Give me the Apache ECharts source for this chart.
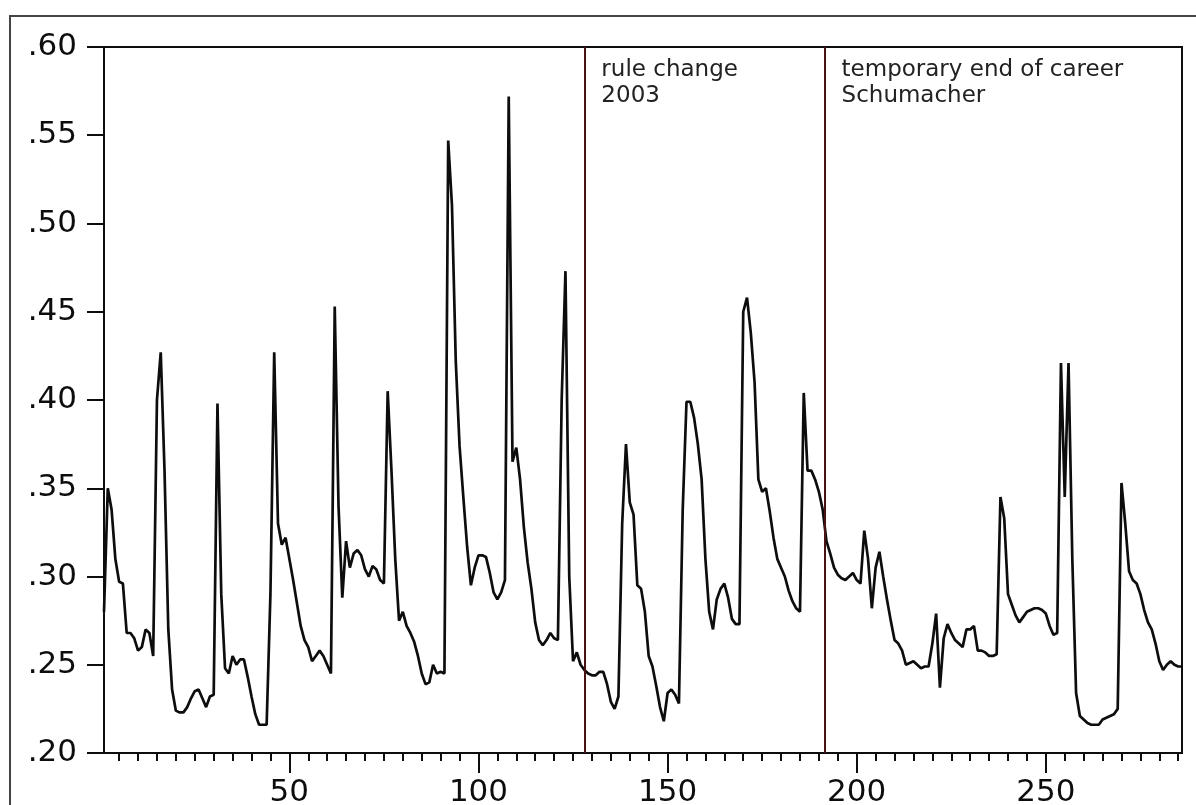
<!DOCTYPE html>
<html>
<head>
<meta charset="utf-8">
<script src="https://cdn.jsdelivr.net/npm/echarts@6/dist/echarts.min.js"></script>
<style>
html,body{margin:0;padding:0;background:#fff;}
#chart{width:1196px;height:805px;}
</style>
</head>
<body>
<div id="chart"></div>
<script>
const values = [
  0.28, 0.35, 0.338, 0.31, 0.297, 0.296, 0.268, 0.268, 0.265, 0.258,
  0.26, 0.27, 0.268, 0.255, 0.40, 0.427, 0.36, 0.27, 0.236, 0.224,
  0.223, 0.223, 0.226, 0.231, 0.235, 0.236, 0.231, 0.226, 0.232, 0.233,
  0.398, 0.29, 0.248, 0.245, 0.255, 0.25, 0.253, 0.253, 0.243, 0.232,
  0.222, 0.216, 0.216, 0.216, 0.29, 0.427, 0.33, 0.318, 0.322, 0.31,
  0.298, 0.285, 0.272, 0.264, 0.26, 0.252, 0.255, 0.258, 0.255, 0.25,
  0.245, 0.453, 0.34, 0.288, 0.32, 0.305, 0.313, 0.315, 0.312, 0.304,
  0.30, 0.306, 0.304, 0.298, 0.296, 0.405, 0.36, 0.31, 0.275, 0.28,
  0.272, 0.268, 0.263, 0.255, 0.245, 0.239, 0.24, 0.25, 0.245, 0.246,
  0.245, 0.547, 0.51, 0.422, 0.374, 0.345, 0.317, 0.295, 0.305, 0.312,
  0.312, 0.311, 0.302, 0.291, 0.287, 0.291, 0.298, 0.572, 0.365, 0.373,
  0.355, 0.328, 0.308, 0.293, 0.274, 0.264, 0.261, 0.264, 0.268, 0.265,
  0.264, 0.40, 0.473, 0.30, 0.252, 0.257, 0.25, 0.247, 0.245, 0.244,
  0.244, 0.246, 0.246, 0.239, 0.229, 0.225, 0.232, 0.33, 0.375, 0.342,
  0.335, 0.295, 0.293, 0.28, 0.255, 0.249, 0.238, 0.226, 0.218, 0.234,
  0.236, 0.233, 0.228, 0.338, 0.399, 0.399, 0.39, 0.375, 0.355, 0.31,
  0.28, 0.27, 0.287, 0.293, 0.296, 0.288, 0.276, 0.273, 0.273, 0.45,
  0.458, 0.438, 0.41, 0.355, 0.348, 0.35, 0.337, 0.322, 0.31, 0.305,
  0.30, 0.292, 0.286, 0.282, 0.28, 0.404, 0.36, 0.36, 0.355, 0.348,
  0.338, 0.32, 0.313, 0.305, 0.301, 0.299, 0.298, 0.30, 0.302, 0.298,
  0.296, 0.326, 0.31, 0.282, 0.305, 0.314, 0.30, 0.287, 0.275, 0.264,
  0.262, 0.258, 0.25, 0.251, 0.252, 0.25, 0.248, 0.249, 0.249, 0.262,
  0.279, 0.237, 0.265, 0.273, 0.268, 0.264, 0.262, 0.26, 0.27, 0.27,
  0.272, 0.258, 0.258, 0.257, 0.255, 0.255, 0.256, 0.345, 0.333, 0.29,
  0.284, 0.278, 0.274, 0.277, 0.28, 0.281, 0.282, 0.282, 0.281, 0.279,
  0.272, 0.267, 0.268, 0.421, 0.345, 0.421, 0.31, 0.234, 0.221, 0.219,
  0.217, 0.216, 0.216, 0.216, 0.219, 0.22, 0.221, 0.222, 0.225, 0.353,
  0.33, 0.303, 0.298, 0.296, 0.29, 0.281, 0.274, 0.27, 0.262, 0.252,
  0.247, 0.25, 0.252, 0.25, 0.249, 0.249
];
const xMin = 1;
const xMax = 286;
const xMajorTicks = [50, 100, 150, 200, 250];
const xMinorTicks = [5,10,15,20,25,30,35,40,45,50,55,60,65,70,75,80,85,90,95,100,
  105,110,115,120,125,130,135,140,145,150,155,160,165,170,175,180,185,190,195,200,
  205,210,215,220,225,230,235,240,245,250,255,260,265,270,275,280,285];
const yMin = 0.20, yMax = 0.60, yStep = 0.05;
const eventX = [128, 191.5];
const eventLabels = ['rule change\n2003', 'temporary end of career\nSchumacher'];

const seriesData = values.map((v, i) => [i + 1, v]);

const chart = echarts.init(document.getElementById('chart'), null, {renderer: 'canvas'});
const FONT = 'DejaVu Sans';
const INK = '#0d0d0d';

chart.setOption({
  animation: false,
  backgroundColor: '#fff',
  graphic: [{
    type: 'rect',
    shape: {x: 10, y: 16, width: 1300, height: 900},
    style: {fill: 'none', stroke: '#444', lineWidth: 2},
    silent: true, z: -1
  }],
  grid: {
    left: 104, top: 47, width: 1078, height: 706,
    outerBoundsMode: 'none',
    containLabel: false,
    show: true, borderColor: INK, borderWidth: 2, backgroundColor: 'transparent'
  },
  xAxis: [{
    type: 'value', min: xMin, max: xMax, position: 'bottom',
    axisLine: {show: true, onZero: false, lineStyle: {color: INK, width: 2}},
    axisTick: {show: true, inside: false, length: 20, customValues: xMajorTicks, lineStyle: {color: INK, width: 2}},
    axisLabel: {show: true, customValues: xMajorTicks, margin: 24, fontSize: 31, fontFamily: FONT, color: INK},
    splitLine: {show: false}
  }, {
    type: 'value', min: xMin, max: xMax, position: 'bottom',
    axisLine: {show: false},
    axisTick: {show: true, inside: false, length: 8, customValues: xMinorTicks, lineStyle: {color: INK, width: 2}},
    axisLabel: {show: false},
    splitLine: {show: false}
  }],
  yAxis: {
    type: 'value', min: yMin, max: yMax, interval: yStep,
    axisLine: {show: true, lineStyle: {color: INK, width: 2}},
    axisTick: {show: true, inside: false, length: 17, lineStyle: {color: INK, width: 2}},
    axisLabel: {
      margin: 27, fontSize: 31, fontFamily: FONT, color: INK,
      formatter: v => v.toFixed(2).replace(/^0/, '')
    },
    splitLine: {show: false}
  },
  series: [{
    type: 'line',
    xAxisIndex: 0,
    data: seriesData,
    showSymbol: false,
    symbol: 'none',
    lineStyle: {color: INK, width: 2.7},
    markLine: {
      silent: true,
      symbol: 'none',
      label: {show: false},
      lineStyle: {color: '#4a1212', width: 2, type: 'solid'},
      data: eventX.map(x => ({xAxis: x}))
    },
    markPoint: {
      silent: true,
      symbol: 'circle',
      symbolSize: 0,
      data: eventX.map((x, i) => ({
        coord: [x, yMax],
        label: {
          show: true,
          formatter: eventLabels[i],
          position: [17, 10],
          align: 'left',
          verticalAlign: 'top',
          fontSize: 23,
          lineHeight: 26,
          fontFamily: FONT,
          color: '#222'
        }
      }))
    }
  }]
});
</script>
</body>
</html>
